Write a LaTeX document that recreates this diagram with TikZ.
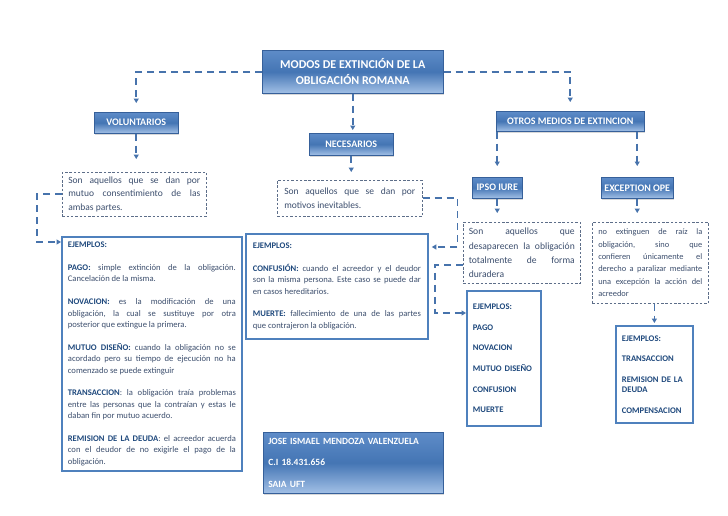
\documentclass[tikz,border=0pt]{standalone}
\usepackage{fontspec}
\setmainfont{Carlito}
\usetikzlibrary{positioning,arrows.meta,shadows}
\frenchspacing
\definecolor{omTop}{HTML}{5E8CC8}
\definecolor{omMid}{HTML}{4475B4}
\definecolor{omBot}{HTML}{A2C0E6}
\definecolor{omEdge}{HTML}{36609A}
\definecolor{omLine}{HTML}{4773AC}
\definecolor{omFrame}{HTML}{4F81BD}
\definecolor{omHead}{HTML}{1F497D}
\definecolor{omText}{HTML}{3D4F6E}
\definecolor{omDash}{HTML}{5D6E89}
\newcommand{\loosepar}{\pretolerance=10000\tolerance=10000\hbadness=10000\relax}
\newcommand{\tightsp}{\spaceskip=2.3pt\relax}
\newcommand{\lb}[1]{\textbf{\color{omHead}#1}}
\newcommand{\ejgap}{\par\vspace{11.4pt}}
\tikzset{
  hdbox/.style   = {draw=omEdge, line width=0.5pt, top color=omTop, bottom color=omBot,
                    middle color=omMid, text=white, inner sep=0pt, anchor=north west,
                    font=\bfseries\fontsize{10}{12}\selectfont,
                    drop shadow={shadow xshift=1.2pt, shadow yshift=-1.6pt, opacity=0.3}},
  notebox/.style = {draw=omDash, line width=0.6pt, dash pattern=on 2.5pt off 1.8pt,
                    inner sep=0pt, anchor=north west, text=omText, align=justify},
  ejbox/.style   = {draw=omFrame, line width=1.8pt, inner sep=0pt, anchor=north west,
                    text=omText, align=justify},
  ejlist/.style  = {draw=omFrame, line width=1.8pt, inner sep=0pt, anchor=north west,
                    text=omHead, align=left,
                    font=\bfseries\fontsize{8.6}{10.4}\selectfont},
  link/.style    = {draw=omLine, line width=1.7pt, dash pattern=on 7pt off 5pt,
                    -{Triangle[length=4.5pt,width=5pt]}},
}

\begin{document}
\begin{tikzpicture}[x=1pt, y=-1pt]
\fill[white] (0,0) rectangle (728,515);
\useasboundingbox (0,0) rectangle (728,515);

% ===================== cabeceras ==========================
\node[hdbox, minimum width=181pt, minimum height=43pt, align=center,
      font=\bfseries\fontsize{12}{16}\selectfont] (modos) at (262,50)
  {MODOS DE EXTINCIÓN DE LA\\OBLIGACIÓN ROMANA};

\node[hdbox, minimum width=84pt, minimum height=21pt] (volunt) at (94,112) {VOLUNTARIOS};
\node[hdbox, minimum width=84pt, minimum height=22pt] (necesa) at (309,133) {NECESARIOS};
\node[hdbox, minimum width=148pt, minimum height=20pt] (otros) at (496,111)
  {OTROS MEDIOS DE EXTINCION};
\node[hdbox, minimum width=50pt, minimum height=21pt] (ipso) at (472,177) {IPSO IURE};
\node[hdbox, minimum width=72pt, minimum height=21pt] (exce) at (601,177) {EXCEPTION OPE};

% ===================== definiciones =======================
\node[notebox, minimum width=144pt, minimum height=44pt, text width=132pt,
      font=\fontsize{9.5}{13.5}\selectfont\loosepar] (voluntTx) at (62,172)
  {Son aquellos que se dan por\linebreak mutuo consentimiento de las\linebreak ambas partes.};
\node[notebox, minimum width=145pt, minimum height=36pt, text width=131pt,
      font=\fontsize{9.5}{13.5}\selectfont\loosepar] (necesaTx) at (277,180)
  {Son aquellos que se dan por\linebreak motivos inevitables.};
\node[notebox, minimum width=117pt, minimum height=61pt, text width=106pt,
      font=\fontsize{9.6}{14.2}\selectfont\loosepar] (ipsoTx) at (463,222)
  {Son aquellos que\linebreak desaparecen la obligación\linebreak totalmente de forma\linebreak duradera};
\node[notebox, minimum width=116pt, minimum height=81pt, text width=104pt,
      font=\fontsize{8.4}{12.4}\selectfont\loosepar] (exceTx) at (592,222)
  {no extinguen de raíz la\linebreak obligación, sino que\linebreak confieren únicamente el\linebreak
   derecho a paralizar mediante\linebreak una excepción la acción del\linebreak acreedor};

% ===================== ejemplos ===========================
\node[ejbox, minimum width=180pt, minimum height=234pt, text width=168pt,
      font=\fontsize{8.6}{11.4}\selectfont\loosepar] (voluntEj) at (61,236)
  {\lb{EJEMPLOS:}\ejgap
   \lb{PAGO:} simple extinción de la obligación.\linebreak Cancelación de la misma.\ejgap
   \lb{NOVACION:} es la modificación de una\linebreak obligación, la cual se sustituye por otra\linebreak
   posterior que extingue la primera.\ejgap
   \lb{MUTUO DISEÑO:} cuando la obligación no se\linebreak acordado pero su tiempo de ejecución no ha\linebreak
   comenzado se puede extinguir\ejgap
   \lb{TRANSACCION}: la obligación traía problemas\linebreak entre las personas que la contraían y estas le\linebreak
   daban fin por mutuo acuerdo.\ejgap
   \lb{REMISION DE LA DEUDA}: el acreedor acuerda\linebreak con el deudor de no exigirle el pago de la\linebreak
   obligación.};
\node[ejbox, minimum width=182pt, minimum height=105pt, text width=168pt,
      font=\fontsize{8.6}{11.4}\selectfont\loosepar] (necesaEj) at (245,233)
  {\lb{EJEMPLOS:}\ejgap
   \lb{CONFUSIÓN:} cuando el acreedor y el deudor\linebreak son la misma persona. Este caso se puede dar\linebreak
   en casos hereditarios.\ejgap
   \lb{MUERTE:} fallecimiento de una de las partes\linebreak que contrajeron la obligación.};
\node[ejlist, minimum width=74pt, minimum height=135pt, text width=62pt] (ipsoEj) at (466,290)
  {EJEMPLOS:\\[10.2pt]PAGO\\[10.2pt]NOVACION\\[10.2pt]MUTUO DISEÑO\\[10.2pt]CONFUSION\\[10.2pt]MUERTE};
\node[ejlist, minimum width=77pt, minimum height=97pt, text width=65pt] (exceEj) at (615,325)
  {EJEMPLOS:\\[10.2pt]TRANSACCION\\[10.2pt]REMISION DE LA\\DEUDA\\[10.2pt]COMPENSACION};

% ===================== autor ==============================
\node[hdbox, minimum width=180pt, minimum height=61pt, text width=170pt, align=left,
      font=\bfseries\fontsize{9.5}{11}\selectfont\tightsp] (autor) at (263,432)
  {JOSE ISMAEL MENDOZA VALENZUELA\\[10.5pt]C.I 18.431.656\\[10.5pt]SAIA UFT};

% ===================== conectores =========================
\draw[link, shorten >=9pt] (modos.west) -| (volunt.north);
\draw[link, shorten >=9pt] (modos.east) -| (otros.north);
\draw[link, shorten >=3pt] (modos.south) -- (modos.south |- necesa.north);
\draw[link, shorten >=13pt] (volunt.south) -- (volunt.south |- voluntTx.north);
\draw[link] (voluntTx.west) -- ++(-25,0) |- ([yshift=-6pt]voluntEj.north west);
\draw[link, shorten >=8pt] (necesa.south) -- (necesa.south |- necesaTx.north);
\draw[link, shorten >=3pt] (necesaTx.east) -- ++(35,0) |- ([yshift=-14pt]necesaEj.north east);
\draw[link, shorten >=11pt] (ipso.north |- otros.south) -- (ipso.north);
\draw[link, shorten >=11pt] (exce.north |- otros.south) -- (exce.north);
\draw[link, shorten >=9pt] (ipso.south) -- (ipso.south |- ipsoTx.north);
\draw[link, shorten >=9pt] (exce.south) -- (exce.south |- exceTx.north);
\draw[link] ([yshift=-12pt]ipsoTx.west) -- ++(-28,0) |- ([yshift=-23pt]ipsoEj.north west);
\draw[link, shorten >=2pt] (exceEj.north |- exceTx.south) -- (exceEj.north);

\end{tikzpicture}
\end{document}
